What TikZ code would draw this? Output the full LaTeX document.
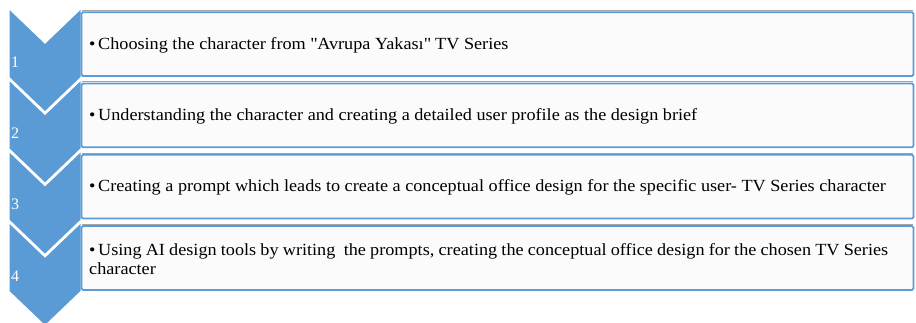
\documentclass[tikz,border=0pt]{standalone}
\usepackage{fontspec}
\setmainfont{Liberation Serif}
\newfontfamily\widefont[FakeStretch=1.07]{Liberation Serif}
\definecolor{chev}{RGB}{91,155,213}
\definecolor{boxfill}{RGB}{251,251,251}
\definecolor{shadowgray}{RGB}{165,165,165}
\newcommand{\fontwide}{\widefont\fontsize{17}{19}\selectfont}
\begin{document}
\begin{tikzpicture}[x=1pt,y=-1pt,
  chevshape/.style={fill=chev,draw=none},
  stepbox/.style={draw=chev,line width=1.8pt,fill=boxfill,rounded corners=1.5pt},
  steptext/.style={anchor=west,inner sep=0pt,text width=799pt,align=justify,font=\fontwide},
  numtext/.style={anchor=west,inner sep=0pt,text=white,font=\fontsize{16}{19}\selectfont}]
\useasboundingbox (0,0) rectangle (916,323);
\newcommand{\bul}[1]{\hangindent=9pt\hangafter=1\noindent\makebox[9pt][l]{\textbullet}#1}
\foreach \i/\txt in {
  1/{Choosing the character from \textquotedbl Avrupa Yakası\textquotedbl\ TV Series},
  2/{Understanding the character and creating a detailed user profile as the design brief},
  3/{Creating a prompt which leads to create a conceptual office design for the specific user- TV Series character},
  4/{Using AI design tools by writing\ \ the prompts, creating the conceptual office design for the chosen TV Series character}}{
  \pgfmathsetmacro{\T}{10+71.3*(\i-1)}
  \fill[chevshape] (9.5,\T) -- (45,\T+34) -- (80.5,\T) -- (80.5,\T+67) -- (45,\T+101) -- (9.5,\T+67) -- cycle;
  \node[numtext] (n\i) at (11,\T+52) {\i};
  \draw[shadowgray,line width=0.8pt] (82,\T+0.6) -- (913,\T+0.6);
  \draw[stepbox] (81.5,\T+2.2) rectangle (913.5,\T+66);
  \node[steptext] (t\i) at (89,\T+35) {\bul{\txt}};
}
\end{tikzpicture}
\end{document}
